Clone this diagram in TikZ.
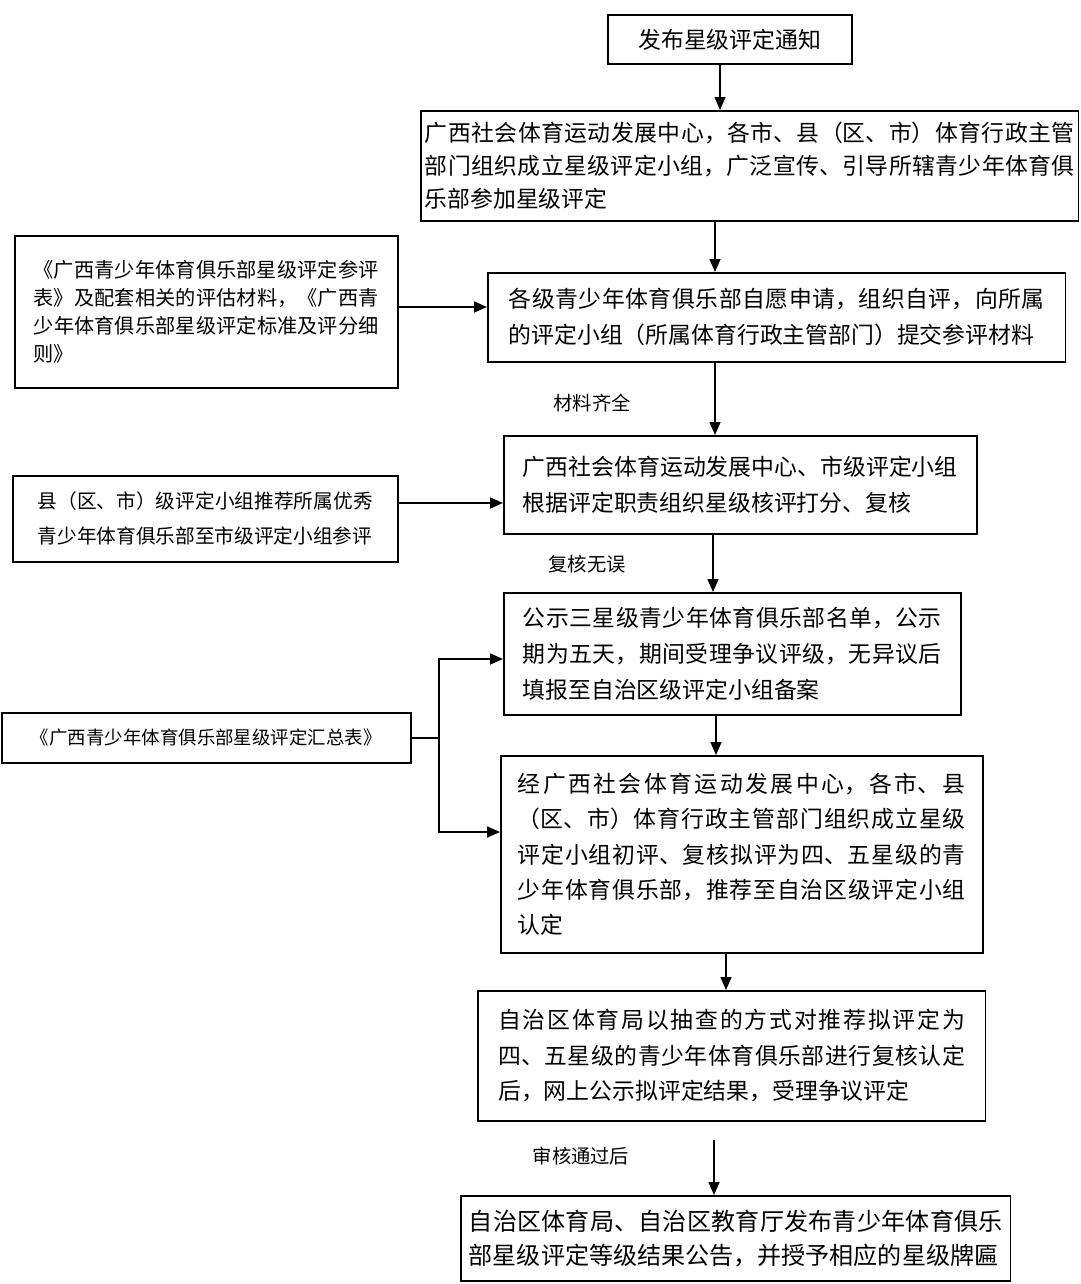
\documentclass[tikz,border=0pt]{standalone}
\usepackage{fontspec}
\setmainfont{Noto Sans CJK SC}
\XeTeXlinebreaklocale "zh"
\XeTeXlinebreakskip=0pt plus 2pt
\usetikzlibrary{arrows.meta}

\begin{document}
\begin{tikzpicture}[x=0.02cm,y=-0.02cm,
  box/.style={draw,line width=0.9pt,anchor=north west,inner ysep=0pt,align=justify},
  arr/.style={line width=0.9pt,-{Triangle[length=0.26cm,width=0.22cm]}},
  lnk/.style={line width=0.9pt},
  lbl/.style={font=\fontsize{11}{13}\selectfont}]
\useasboundingbox (0,0) rectangle (1080,1284);
\node[box,align=center,minimum width=4.88cm,minimum height=0.98cm,font=\fontsize{13}{16}\selectfont] (notice) at (607,14) {发布星级评定通知};
\node[box,minimum width=13.16cm,minimum height=2.2cm,inner xsep=0.08cm,text width=13cm,font=\fontsize{13}{18.8}\selectfont] (group) at (420,110) {广西社会体育运动发展中心，各市、县（区、市）体育行政主管\linebreak 部门组织成立星级评定小组，广泛宣传、引导所辖青少年体育俱\linebreak 乐部参加星级评定};
\node[box,minimum width=11.56cm,minimum height=1.78cm,inner xsep=0.42cm,text width=10.72cm,font=\fontsize{13}{20.5}\selectfont] (apply) at (487,272) {各级青少年体育俱乐部自愿申请，组织自评，向所属\linebreak 的评定小组（所属体育行政主管部门）提交参评材料};
\node[box,minimum width=7.66cm,minimum height=3.04cm,inner xsep=0.38cm,text width=6.9cm,font=\fontsize{11.5}{16}\selectfont] (forms) at (14,235) {《广西青少年体育俱乐部星级评定参评\linebreak 表》及配套相关的评估材料，《广西青\linebreak 少年体育俱乐部星级评定标准及评分细\linebreak 则》};
\node[box,minimum width=9.46cm,minimum height=1.96cm,inner xsep=0.38cm,text width=8.7cm,font=\fontsize{13}{20}\selectfont] (score) at (503,435) {广西社会体育运动发展中心、市级评定小组\linebreak 根据评定职责组织星级核评打分、复核};
\node[box,minimum width=7.7cm,minimum height=1.72cm,inner xsep=0.5cm,text width=6.7cm,font=\fontsize{11.2}{20}\selectfont] (recommend) at (12,475) {县（区、市）级评定小组推荐所属优秀\linebreak 青少年体育俱乐部至市级评定小组参评};
\node[box,minimum width=9.14cm,minimum height=2.44cm,inner xsep=0.38cm,text width=8.38cm,font=\fontsize{13}{20.5}\selectfont] (publicize) at (503,592) {公示三星级青少年体育俱乐部名单，公示\linebreak 期为五天，期间受理争议评级，无异议后\linebreak 填报至自治区级评定小组备案};
\node[box,align=center,minimum width=8.18cm,minimum height=1.0cm,font=\fontsize{10.5}{13}\selectfont] (summary) at (1,712) {《广西青少年体育俱乐部星级评定汇总表》};
\node[box,minimum width=9.64cm,minimum height=3.94cm,inner xsep=0.34cm,text width=8.96cm,font=\fontsize{13}{20}\selectfont] (review) at (500,755) {经广西社会体育运动发展中心，各市、县\linebreak （区、市）体育行政主管部门组织成立星级\linebreak 评定小组初评、复核拟评为四、五星级的青\linebreak 少年体育俱乐部，推荐至自治区级评定小组\linebreak 认定};
\node[box,minimum width=10.16cm,minimum height=2.6cm,inner xsep=0.41cm,text width=9.34cm,font=\fontsize{13}{20.2}\selectfont] (check) at (477,990) {自治区体育局以抽查的方式对推荐拟评定为\linebreak 四、五星级的青少年体育俱乐部进行复核认定\linebreak 后，网上公示拟评定结果，受理争议评定};
\node[box,minimum width=11cm,minimum height=1.7cm,inner xsep=0.16cm,text width=10.68cm,font=\fontsize{13.7}{19.4}\selectfont] (result) at (460,1195) {自治区体育局、自治区教育厅发布青少年体育俱乐\linebreak 部星级评定等级结果公告，并授予相应的星级牌匾};
\node[lbl] (full) at (592,403) {材料齐全};
\node[lbl] (ok) at (587,564) {复核无误};
\node[lbl] (passed) at (581,1156) {审核通过后};
\coordinate (fork) at (summary.east -| 439,0);
\draw[arr] (notice.south -| 720,0) -- (group.north -| 720,0);
\draw[arr] (group.south -| 715,0) -- (apply.north -| 715,0);
\draw[arr] (forms.east |- 0,307) -- (apply.west |- 0,307);
\draw[arr] (apply.south -| 715,0) -- (score.north -| 715,0);
\draw[arr] (recommend.east |- 0,503) -- (score.west |- 0,503);
\draw[arr] (score.south -| 713,0) -- (publicize.north -| 713,0);
\draw[arr] (publicize.south -| 716,0) -- (review.north -| 716,0);
\draw[lnk] (summary.east) -- (fork);
\draw[arr] (fork) |- (publicize.west |- 0,659);
\draw[arr] (fork) |- (review.west |- 0,832);
\draw[arr] (review.south -| 726,0) -- (check.north -| 726,0);
\draw[arr,shorten <=0.36cm] (check.south -| 714,0) -- (result.north -| 714,0);
\end{tikzpicture}
\end{document}
